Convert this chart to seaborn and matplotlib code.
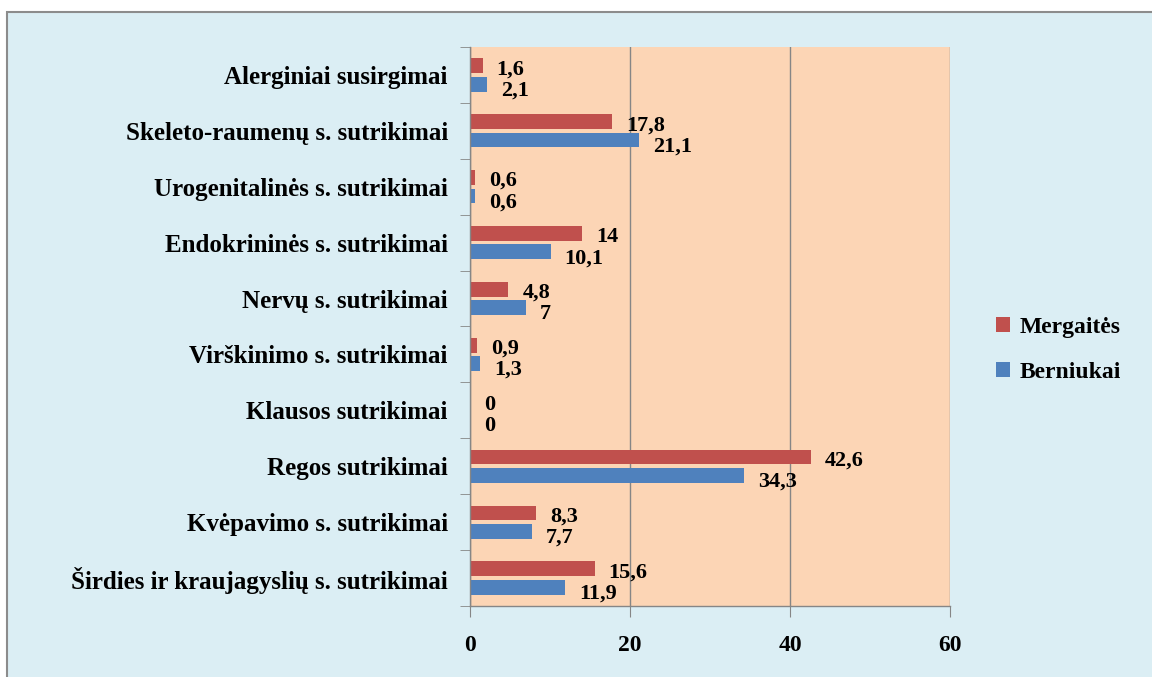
import matplotlib
matplotlib.use("Agg")
import matplotlib.pyplot as plt
from matplotlib.patches import Rectangle
from matplotlib.ticker import FixedLocator
import seaborn as sns
import pandas as pd

categories = ["Alerginiai susirgimai", "Skeleto-raumenų s. sutrikimai",
              "Urogenitalinės s. sutrikimai", "Endokrininės s. sutrikimai",
              "Nervų s. sutrikimai", "Virškinimo s. sutrikimai",
              "Klausos sutrikimai", "Regos sutrikimai",
              "Kvėpavimo s. sutrikimai", "Širdies ir kraujagyslių s. sutrikimai"]
mergaites = [1.6, 17.8, 0.6, 14, 4.8, 0.9, 0, 42.6, 8.3, 15.6]
berniukai = [2.1, 21.1, 0.6, 10.1, 7, 1.3, 0, 34.3, 7.7, 11.9]
series = ["Mergaitės", "Berniukai"]
x_ticks = [0, 20, 40, 60]

plt.rcParams['font.family'] = ['Liberation Serif', 'DejaVu Serif']
plt.rcParams['font.weight'] = 'bold'

df = pd.DataFrame({
    "cat": categories * 2,
    "val": mergaites + berniukai,
    "ser": [series[0]] * len(categories) + [series[1]] * len(categories),
})

W, H = 1152, 677
fig = plt.figure(figsize=(W / 100, H / 100), dpi=100, facecolor="white")
fig.patches.append(Rectangle((7 / W, -0.01), 1.02, 1 - 12 / H + 0.01,
                             transform=fig.transFigure, facecolor="#DBEEF4",
                             edgecolor="#8C8C8C", linewidth=1.5, zorder=-10))

ax = fig.add_axes([470 / W, 1 - 606 / H, 480 / W, 559 / H])
ax.set_facecolor("#FCD5B5")

sns.barplot(data=df, y="cat", x="val", hue="ser", hue_order=series,
            order=categories, orient="h", palette=["#C0504D", "#4F81BD"],
            saturation=1, width=0.66, gap=0.2, dodge=True, ax=ax, legend=True,
            edgecolor="none", errorbar=None)

ax.set_xlim(0, 60)
ax.set_ylim(len(categories) - 0.5, -0.5)
ax.xaxis.set_major_locator(FixedLocator(x_ticks))
ax.grid(axis="x", color="#868686", linewidth=1)
ax.set_axisbelow(True)
for s in ["top", "right"]:
    ax.spines[s].set_visible(False)
for s in ["left", "bottom"]:
    ax.spines[s].set_color("#868686")
    ax.spines[s].set_linewidth(1)
ax.set_xlabel("")
ax.set_ylabel("")

ax.tick_params(axis="x", length=8, color="#868686", pad=13, labelsize=17)
ax.tick_params(axis="y", which="major", length=0, pad=16, labelsize=18)
ax.yaxis.set_minor_locator(FixedLocator([i - 0.5 for i in range(len(categories) + 1)]))
ax.tick_params(axis="y", which="minor", length=7, color="#868686")
for t in ax.get_xticklabels() + ax.get_yticklabels():
    t.set_fontweight("bold")

def fmt(v):
    s = ("%g" % v)
    return s.replace(".", ",")

offsets = [-2.5, -4.5]
for ci, cont in enumerate(ax.containers):
    for bar in cont:
        w = bar.get_width()
        yc = bar.get_y() + bar.get_height() / 2
        ax.annotate(fmt(w), (w, yc), xytext=(10, offsets[ci]),
                    textcoords="offset points", ha="left", va="center",
                    fontsize=16, fontweight="bold", color="black")

leg = ax.legend(loc="center left", bbox_to_anchor=(975 / W, 1 - 350 / H),
                bbox_transform=fig.transFigure, frameon=False,
                handlelength=0.6, handleheight=0.6, handletextpad=0.4,
                labelspacing=1.0, prop={"size": 17, "weight": "bold"})

fig.savefig("out.png", dpi=100, facecolor=fig.get_facecolor())
